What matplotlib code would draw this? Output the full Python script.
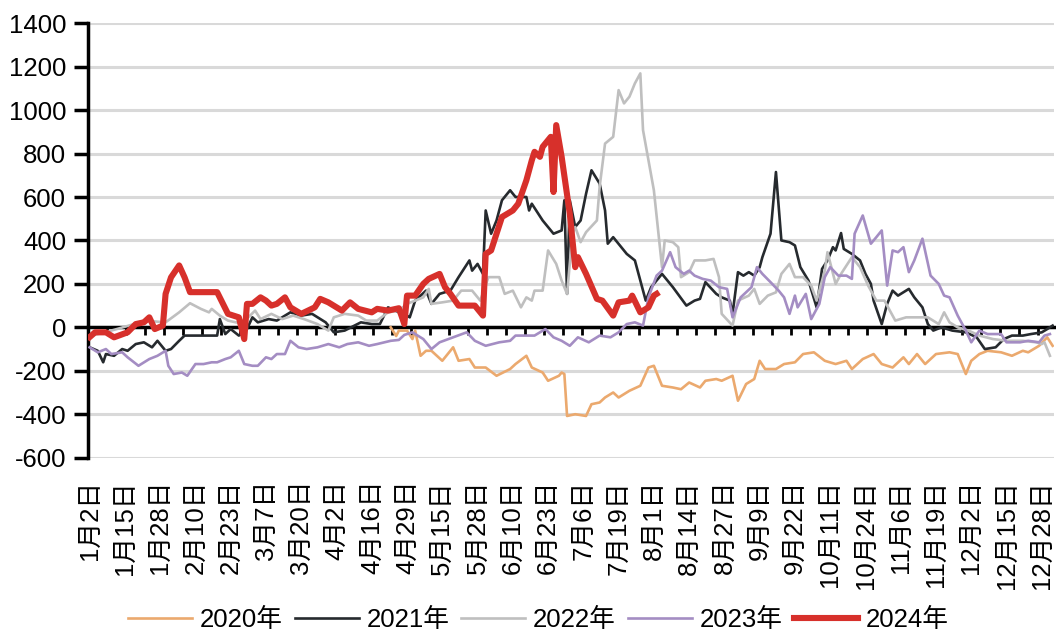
import matplotlib
matplotlib.use('Agg')
import matplotlib.pyplot as plt
from matplotlib.ticker import FixedLocator
import numpy as np

plt.rcParams['font.family'] = ['Liberation Sans', 'Noto Sans CJK SC', 'DejaVu Sans']
plt.rcParams['axes.unicode_minus'] = False

# ---------------- data ----------------
date_labels = ['1月2日', '1月15日', '1月28日', '2月10日', '2月23日', '3月7日', '3月20日',
               '4月2日', '4月16日', '4月29日', '5月15日', '5月28日', '6月10日', '6月23日',
               '7月6日', '7月19日', '8月1日', '8月14日', '8月27日', '9月9日', '9月22日',
               '10月11日', '10月24日', '11月6日', '11月19日', '12月2日', '12月15日', '12月28日']
label_step = 13
tick_step = 7
n_cats = 356

years = ['2020年', '2021年', '2022年', '2023年', '2024年']

x2020 = [111, 113, 114, 117, 119, 120, 122, 124, 126, 130, 134, 136, 140, 142, 146, 150, 155, 157,
         161, 163, 167, 169, 173, 174, 175, 176, 179, 183, 185, 188, 190, 193, 195, 199, 203, 206,
         208, 211, 215, 218, 221, 225, 227, 231, 233, 237, 239, 242, 245, 247, 249, 253, 256, 260,
         263, 267, 271, 275, 279, 281, 285, 289, 292, 296, 300, 302, 305, 308, 312, 317, 320, 323,
         325, 328, 331, 336, 340, 344, 346, 350, 353, 355]
y2020 = [0, -40, -15, -15, -54, -15, -131, -108, -108, -154, -92, -154, -146, -185, -185, -223, -192, -169,
         -131, -185, -208, -246, -223, -208, -215, -408, -400, -408, -354, -346, -323, -300, -323, -292, -269, -185,
         -177, -269, -277, -285, -254, -277, -246, -238, -246, -223, -338, -261, -238, -154, -192, -192, -169, -161,
         -123, -115, -154, -169, -154, -192, -146, -123, -169, -185, -138, -169, -123, -169, -123, -115, -123, -215,
         -154, -123, -108, -115, -131, -108, -115, -85, -46, -85]

x2021 = [0, 3, 5, 6, 9, 12, 14, 17, 20, 23, 25, 28, 30, 33, 35, 47, 48, 50, 52, 55, 58, 60, 62, 66, 69,
         74, 78, 82, 87, 90, 94, 100, 104, 107, 110, 114, 117, 118, 120, 124, 126, 129, 133, 136, 140,
         141, 143, 145, 146, 148, 150, 152, 155, 157, 161, 162, 163, 167, 171, 174, 175, 176, 177, 179,
         181, 183, 185, 188, 190, 191, 193, 198, 201, 205, 207, 211, 215, 220, 223, 225, 227, 231, 233,
         236, 237, 239, 241, 243, 245, 247, 248, 251, 253, 255, 258, 260, 262, 265, 268, 270, 272, 274,
         275, 277, 278, 281, 284, 286, 288, 289, 292, 294, 296, 298, 302, 304, 307, 309, 311, 314, 318,
         323, 327, 330, 334, 337, 340, 344, 347, 351, 353, 355]
y2021 = [-92, -108, -161, -123, -131, -100, -108, -77, -69, -92, -62, -108, -100, -62, -38, -38, 38, -31, -8, -38, -8, 46, 23, 38, 31,
         69, 54, 62, 23, -23, -15, 23, 15, 15, 92, 69, 54, 46, 123, 169, 108, 154, 169, 231, 308,
         261, 292, 246, 538, 431, 492, 585, 631, 600, 600, 538, 569, 492, 431, 446, 585, 154, 585, 462,
         492, 615, 723, 662, 538, 385, 415, 338, 308, 123, 185, 246, 185, 100, 123, 131, 208, 154, 138,
         123, 62, 254, 238, 254, 238, 277, 323, 431, 715, 400, 392, 377, 277, 215, 92, 269, 308, 369,
         354, 434, 361, 338, 308, 246, 200, 123, 15, 108, 169, 146, 177, 138, 92, 15, -15, 0, -15,
         -23, -46, -100, -92, -54, -38, -38, -31, -23, -8, 8]

x2022 = [0, 5, 10, 15, 20, 28, 33, 37, 41, 44, 45, 48, 51, 55, 58, 61, 63, 67, 71, 75, 79, 84, 88, 90,
         94, 99, 102, 106, 110, 114, 117, 120, 123, 125, 126, 130, 134, 137, 141, 144, 147, 151, 153,
         156, 159, 161, 163, 164, 167, 169, 172, 174, 176, 178, 179, 181, 183, 187, 188, 190, 193, 195,
         197, 199, 201, 203, 204, 208, 211, 212, 215, 217, 218, 221, 223, 227, 230, 232, 233, 237, 239,
         243, 245, 247, 250, 253, 255, 258, 260, 263, 266, 268, 271, 272, 275, 277, 281, 284, 287, 290,
         293, 297, 301, 306, 309, 313, 315, 317, 320, 324, 328, 333, 338, 344, 349, 351, 352, 354]
y2022 = [-40, -25, -8, 10, 31, 23, 69, 111, 85, 69, 85, 54, 31, 20, 40, 77, 38, 62, 38, 54, 38, 15, -15, 46,
         62, 54, 31, 31, 69, 77, 108, 123, 138, 177, 108, 115, 123, 169, 169, 123, 231, 231, 154,
         169, 92, 138, 123, 169, 169, 354, 292, 215, 154, 431, 462, 392, 438, 492, 646, 846, 877, 1092,
         1031, 1062, 1123, 1169, 908, 631, 277, 400, 392, 369, 231, 254, 308, 308, 315, 231, 62, 8, 123,
         146, 177, 108, 146, 161, 246, 292, 231, 231, 192, 123, 261, 346, 200, 246, 323, 277, 192, 123,
         123, 31, 46, 46, 46, 15, 69, 23, 0, -15, -38, -54, -62, -62, -69, -77, -69, -131]

x2023 = [0, 3, 6, 8, 12, 14, 18, 22, 25, 28, 29, 31, 34, 36, 39, 42, 45, 47, 50, 52, 55, 57, 60, 62,
         65, 67, 69, 72, 74, 77, 80, 84, 88, 92, 95, 99, 103, 106, 111, 114, 116, 119, 123, 126, 129,
         134, 139, 142, 146, 151, 155, 157, 164, 168, 171, 174, 177, 180, 184, 188, 192, 195, 198, 201,
         204, 206, 209, 211, 214, 216, 219, 221, 223, 226, 229, 232, 235, 237, 240, 244, 246, 248, 251,
         254, 256, 258, 260, 261, 264, 266, 269, 271, 273, 276, 279, 281, 282, 285, 288, 290, 292, 294,
         296, 298, 300, 302, 304, 307, 310, 313, 315, 317, 320, 323, 325, 328, 331, 336, 338, 343, 346,
         350, 352, 354]
y2023 = [-92, -115, -100, -123, -115, -138, -177, -146, -131, -108, -177, -215, -208, -223, -169, -169, -161, -161, -146, -138, -108, -169, -177, -177,
         -138, -146, -123, -123, -62, -92, -100, -92, -77, -92, -77, -69, -85, -77, -62, -58, -35, -23, -54, -100, -69,
         -46, -23, -62, -85, -69, -62, -38, -38, -8, -46, -62, -85, -46, -69, -38, -46, -23, 15, 23,
         8, 138, 238, 261, 346, 277, 246, 261, 238, 223, 215, 185, 177, 46, 138, 185, 277, 246, 208,
         169, 138, 62, 146, 92, 154, 38, 108, 231, 277, 238, 238, 223, 431, 515, 385, 415, 446, 192,
         354, 346, 369, 254, 308, 408, 238, 200, 146, 138, 54, -15, -69, -15, -31, -31, -69, -69, -62,
         -69, -38, -31]

x2024 = [0, 2, 6, 9, 14, 17, 20, 22, 24, 27, 28, 30, 33, 35, 37, 47, 51, 55, 57, 58, 60, 63, 65, 67,
         69, 72, 74, 78, 83, 85, 88, 93, 96, 99, 104, 106, 110, 114, 116, 117, 120, 123, 125, 129, 131,
         133, 136, 142, 145, 146, 148, 150, 152, 156, 158, 161, 163, 164, 166, 167, 170, 171, 172, 174,
         177, 179, 180, 183, 187, 189, 193, 195, 199, 200, 203, 206, 208, 209]
y2024 = [-45, -23, -23, -46, -23, 15, 23, 46, -8, 8, 154, 230, 285, 230, 162, 162, 62, 46, -54, 108, 108, 138, 123, 100,
         108, 138, 92, 62, 92, 131, 115, 77, 115, 85, 69, 85, 77, 88, 15, 146, 146, 200, 223, 246, 185,
         154, 100, 100, 54, 338, 354, 431, 508, 538, 569, 677, 769, 808, 785, 831, 877, 623, 931, 785,
         523, 277, 323, 246, 131, 123, 54, 115, 123, 146, 69, 92, 146, 154]

series = [(x2020, y2020), (x2021, y2021), (x2022, y2022), (x2023, y2023), (x2024, y2024)]
colors = ['#EBA96E', '#262A2E', '#BFBFBF', '#A48DC3', '#D7302B']
widths = [1.9, 1.9, 1.9, 1.9, 4.4]

# ---------------- figure ----------------
fig = plt.figure(figsize=(10.56, 6.33), dpi=100)
ax = fig.add_axes([0.0836, 0.277, 0.9145, 0.6863])

for (xs, ys), c, w, name, z in zip(series, colors, widths, years, range(3, 8)):
    ax.plot(xs, ys, color=c, lw=w, label=name, zorder=z, solid_joinstyle='round')

ymin, ymax = -600, 1400
ax.set_xlim(-0.5, n_cats - 0.5)
ax.set_ylim(ymin, ymax)
ax.set_yticks(np.arange(ymin, ymax + 1, 200))
ax.grid(axis='y', color='#D9D9D9', lw=2.2, zorder=0.5)
for s in ['top', 'right']:
    ax.spines[s].set_visible(False)
ax.spines['left'].set_linewidth(2.5)
ax.spines['bottom'].set_position(('data', 0))
ax.spines['bottom'].set_linewidth(2.5)
ax.spines['bottom'].set_color('black')
ax.spines['bottom'].set_zorder(2.6)
ax.tick_params(axis='y', direction='out', length=10, width=2.5, labelsize=18.5, pad=6)

# labels: major ticks (no marks), pushed down to the bottom of the plot area
ax.xaxis.set_major_locator(FixedLocator(np.arange(len(date_labels)) * label_step))
ax.set_xticklabels(date_labels, rotation=90)
label_pad = (0 - ymin) / (ymax - ymin) * 0.6863 * 6.33 * 72 + 16
ax.tick_params(axis='x', which='major', length=0, pad=label_pad, labelsize=18.5)
# tick marks on the zero axis line: minor ticks
ax.xaxis.set_minor_locator(FixedLocator(np.arange(-0.5, n_cats - 0.5, tick_step)))
ax.tick_params(axis='x', which='minor', direction='out', length=6, width=2.0, color='black')

fig.legend(ncol=5, loc='center', bbox_to_anchor=(0.51, 0.021), frameon=False,
           fontsize=18.5, handlelength=2.5, handletextpad=0.3, columnspacing=0.45)

fig.savefig('out.png', dpi=100)
